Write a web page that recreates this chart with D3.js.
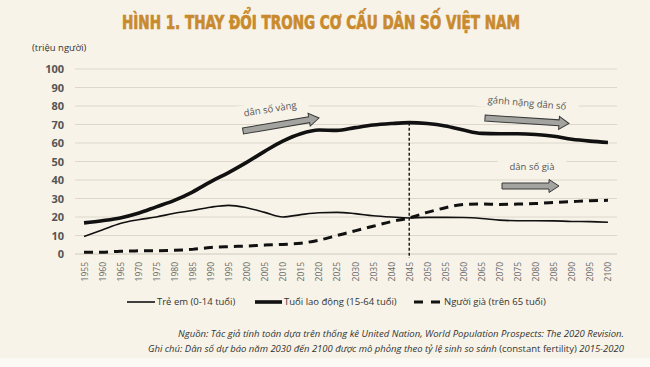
<!DOCTYPE html>
<html>
<head>
<meta charset="utf-8">
<script src="https://cdn.jsdelivr.net/npm/d3@7"></script>
<style>
  html, body { margin: 0; padding: 0; background: #f7f3e8; }
  svg { display: block; }
</style>
</head>
<body>
<svg id="chart" width="650" height="367"></svg>
<script>
const years = [1955,1960,1965,1970,1975,1980,1985,1990,1995,2000,2005,2010,2015,2020,2025,2030,2035,2040,2045,2050,2055,2060,2065,2070,2075,2080,2085,2090,2095,2100];
const children = [9.5,13,16.5,18.5,20,22,23.5,25.3,26.3,25,22.5,20,21.3,22.3,22.5,21.8,20.7,20,19.5,19.8,19.8,19.7,19.2,18.3,18,18,17.9,17.6,17.5,17.2];
const working = [16.8,18,19.5,22,25.5,29,33.5,39,44,49.5,55.5,61,65,67,66.8,68.3,69.7,70.5,71,70.5,69.2,67,65.2,65,65,64.6,63.6,62,61,60.3];
const elderly = [1,1,1.5,1.7,1.8,2,2.5,3.5,4,4.3,4.8,5.2,5.8,7.5,10,12.5,15,17.5,19.5,22.5,25,26.8,27,26.8,27,27.3,27.8,28.3,28.8,29];
const yTicks = [0,10,20,30,40,50,60,70,80,90,100];
const seriesNames = ["Trẻ em (0-14 tuổi)", "Tuổi lao động (15-64 tuổi)", "Người già (trên 65 tuổi)"];
const markerYear = 2045;

const svg = d3.select("#chart");
const bg = "#f7f3e8";

svg.append("rect").attr("width", 650).attr("height", 367).attr("fill", bg);
svg.append("rect").attr("y", 358).attr("width", 650).attr("height", 9).attr("fill", "#fbf9f3");

// Title
svg.append("text").attr("x", 321).attr("y", 29).attr("text-anchor", "middle")
  .attr("font-family", "'Liberation Sans Narrow', 'DejaVu Sans Condensed', 'Roboto', sans-serif")
  .attr("font-weight", "bold").attr("font-size", 19.5).attr("fill", "#c98a2e")
  .attr("stroke", "#c98a2e").attr("stroke-width", 0.7)
  .attr("textLength", 398).attr("lengthAdjust", "spacingAndGlyphs")
  .text("HÌNH 1. THAY ĐỔI TRONG CƠ CẤU DÂN SỐ VIỆT NAM");

svg.append("text").attr("x", 32).attr("y", 51)
  .attr("font-family", "'Open Sans', sans-serif").attr("font-size", 9.5).attr("fill", "#333")
  .text("(triệu người)");

const x = d3.scalePoint().domain(years).range([75, 617]).padding(0.5);
const y = d3.scaleLinear().domain([0, 100]).range([254, 69]);

// gridlines
svg.append("g").selectAll("line").data(yTicks).join("line")
  .attr("x1", 75).attr("x2", 617)
  .attr("y1", d => y(d)).attr("y2", d => y(d))
  .attr("stroke", d => d === 0 ? "#cfcabd" : "#ddd8cb").attr("stroke-width", 1);

// y axis labels
const gy = svg.append("g").attr("transform", "translate(64,0)")
  .call(d3.axisLeft(y).tickValues(yTicks).tickSize(0).tickPadding(0));
gy.select(".domain").remove();
gy.selectAll("text").attr("font-family", "'Open Sans', sans-serif").attr("font-weight", "bold")
  .attr("font-size", 11).attr("fill", "#555").attr("dy", "0.35em");

// x axis labels
const gx = svg.append("g").attr("transform", "translate(0,254)")
  .call(d3.axisBottom(x).tickSize(0).tickPadding(0));
gx.select(".domain").remove();
gx.selectAll("text")
  .attr("font-family", "'Open Sans', sans-serif").attr("font-size", 8.5).attr("fill", "#666")
  .attr("transform", "rotate(-90)").attr("text-anchor", "end")
  .attr("x", -8).attr("y", 0).attr("dy", "0.35em");

// annotation helper
function annot(text, cx, cy, angle) {
  const g = svg.append("g").attr("transform", `translate(${cx},${cy}) rotate(${angle})`);
  const t = g.append("text").attr("text-anchor", "middle").attr("dy", "0.35em")
    .attr("font-family", "'Open Sans', sans-serif").attr("font-size", 9.5).attr("fill", "#555")
    .text(text);
  const bb = t.node().getBBox();
  g.insert("rect", "text").attr("x", bb.x - 12).attr("y", bb.y - 1)
    .attr("width", bb.width + 24).attr("height", bb.height + 2).attr("fill", bg);
}
annot("dân số vàng", 270, 109, -9);
annot("gánh nặng dân số", 527, 103, 5);
annot("dân số già", 532, 167, 0);

// arrow helper
function arrow(x1, y1, x2, y2) {
  const len = Math.hypot(x2 - x1, y2 - y1);
  const ang = Math.atan2(y2 - y1, x2 - x1) * 180 / Math.PI;
  const sh = 3, hh = 6.5, hl = 10;
  const pts = [[0, -sh], [len - hl, -sh], [len - hl, -hh], [len, 0], [len - hl, hh], [len - hl, sh], [0, sh]];
  svg.append("path").attr("transform", `translate(${x1},${y1}) rotate(${ang})`)
    .attr("d", d3.line()(pts) + "Z")
    .attr("fill", "#a3a3a0").attr("stroke", "#3a3a3a").attr("stroke-width", 1);
}

const line = d3.line().x((d, i) => x(years[i])).y(d => y(d)).curve(d3.curveMonotoneX);

// vertical marker
svg.append("line").attr("x1", x(markerYear)).attr("x2", x(markerYear))
  .attr("y1", y(working[years.indexOf(markerYear)])).attr("y2", 258)
  .attr("stroke", "#222").attr("stroke-width", 1.5).attr("stroke-dasharray", "3,2");

svg.append("path").datum(children).attr("d", line).attr("fill", "none")
  .attr("stroke", "#111").attr("stroke-width", 1.6);
svg.append("path").datum(working).attr("d", line).attr("fill", "none")
  .attr("stroke", "#111").attr("stroke-width", 3.6);
svg.append("path").datum(elderly).attr("d", line).attr("fill", "none")
  .attr("stroke", "#111").attr("stroke-width", 3).attr("stroke-dasharray", "9,6");

arrow(243, 131, 319, 118);
arrow(485, 118, 569, 123.5);
arrow(502, 186, 559, 186);

// legend
const legend = [
  { name: seriesNames[0], x1: 127, x2: 155, w: 1.6, dash: null },
  { name: seriesNames[1], x1: 255, x2: 282, w: 3.6, dash: null },
  { name: seriesNames[2], x1: 414, x2: 442, w: 3, dash: "9,8" }
];
const lg = svg.append("g");
legend.forEach(l => {
  lg.append("line").attr("x1", l.x1).attr("x2", l.x2).attr("y1", 302).attr("y2", 302)
    .attr("stroke", "#111").attr("stroke-width", l.w).attr("stroke-dasharray", l.dash);
  lg.append("text").attr("x", l.x2 + 2).attr("y", 302).attr("dy", "0.35em")
    .attr("font-family", "'Open Sans', sans-serif").attr("font-size", 9.5).attr("fill", "#333")
    .text(l.name);
});

// footnotes
const fn = svg.append("g").attr("font-family", "'Open Sans', sans-serif").attr("font-size", 9.5).attr("fill", "#333");
fn.append("text").attr("x", 624).attr("y", 337).attr("text-anchor", "end").attr("font-style", "italic")
  .attr("textLength", 446).attr("lengthAdjust", "spacingAndGlyphs")
  .text("Nguồn: Tác giả tính toán dựa trên thống kê United Nation, World Population Prospects: The 2020 Revision.");
const t2 = fn.append("text").attr("x", 148).attr("y", 352)
  .attr("textLength", 476).attr("lengthAdjust", "spacingAndGlyphs");
t2.append("tspan").attr("font-style", "italic").text("Ghi chú: Dân số dự báo năm 2030 đến 2100 được mô phỏng theo tỷ lệ sinh so sánh ");
t2.append("tspan").text("(constant fertility) ");
t2.append("tspan").attr("font-style", "italic").text("2015-2020");
</script>
</body>
</html>
